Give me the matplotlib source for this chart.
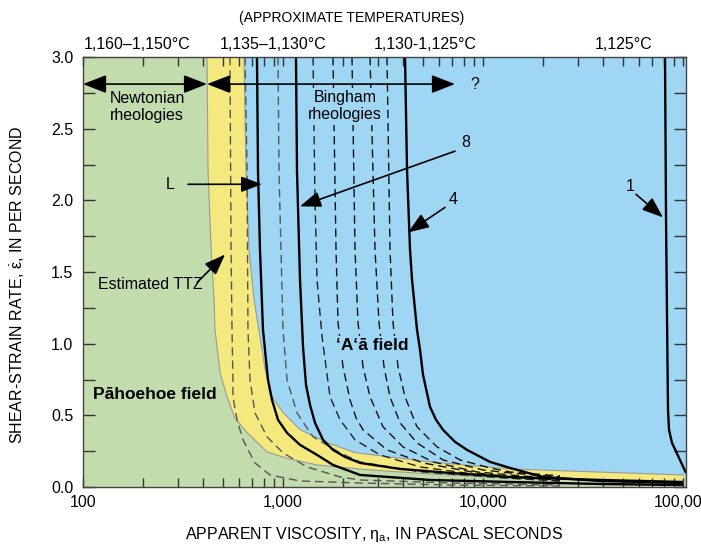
import matplotlib.pyplot as plt
from matplotlib.ticker import FixedLocator, FixedFormatter, LogLocator, NullFormatter, MultipleLocator, FormatStrFormatter
import matplotlib.transforms as mtransforms

plt.rcParams['font.family'] = ['Liberation Sans', 'DejaVu Sans']
plt.rcParams['mathtext.fontset'] = 'custom'
plt.rcParams['mathtext.rm'] = 'Liberation Sans'
plt.rcParams['mathtext.it'] = 'Liberation Sans:italic'

GREEN = '#c2dcae'
YELLOW = '#f3e97f'
BLUE = '#9fd6f4'
EDGE = '#9a9a9a'

# axis
x_ticks = [100, 1000, 10000, 100000]
x_ticklabels = ['100', '1,000', '10,000', '100,000']
XMAX = 103500

# transitional threshold zone (TTZ) edges: viscosity (Pa s), strain rate (1/s)
ttz_left_v = [417, 422, 437, 452, 457, 484, 525, 575, 661, 832, 1047, 1479, 2723, 5433, 13646, 100000]
ttz_left_s = [3.0, 2.2, 1.66, 1.31, 1.10, 0.80, 0.63, 0.48, 0.38, 0.245, 0.20, 0.154, 0.119, 0.091, 0.063, 0.035]
ttz_right_v = [638, 653, 676, 716, 785, 813, 881, 1000, 1216, 1660, 2291, 5433, 13646, 100000]
ttz_right_s = [3.0, 2.22, 1.66, 1.31, 0.96, 0.82, 0.63, 0.52, 0.40, 0.31, 0.24, 0.175, 0.126, 0.084]

# solid curves
curve_L_v = [741, 750, 767, 794, 841, 881, 944, 1047, 1216, 1479, 1778, 2427, 5433, 13646, 38459, 100000]
curve_L_s = [3.0, 2.2, 1.66, 1.10, 0.748, 0.608, 0.469, 0.378, 0.294, 0.224, 0.154, 0.084, 0.049, 0.035, 0.021, 0.014]
curve_8_v = [1161, 1175, 1216, 1259, 1303, 1365, 1445, 1585, 1778, 2042, 2427, 3846, 6839, 13646, 38459, 100000]
curve_8_s = [3.0, 2.2, 1.448, 0.979, 0.713, 0.573, 0.448, 0.329, 0.259, 0.210, 0.168, 0.126, 0.098, 0.070, 0.049, 0.035]
curve_4_v = [4074, 4169, 4315, 4416, 4677, 4842, 5012, 5433, 5821, 6310, 7244, 8318, 10839, 13646, 19953, 38459, 100000]
curve_4_s = [3.0, 2.217, 1.657, 1.448, 1.098, 0.958, 0.783, 0.559, 0.469, 0.399, 0.315, 0.259, 0.175, 0.133, 0.070, 0.042, 0.028]
curve_1_v = [81283, 82224, 83176, 84140, 85114, 88105, 95499, 103514]
curve_1_s = [3.0, 1.888, 1.189, 0.538, 0.399, 0.308, 0.203, 0.098]

# dashed curves
dash_1_v = [543, 550, 556, 562, 562, 589, 631, 724, 861, 1216, 2427, 6839, 24266]
dash_1_s = [3.0, 1.657, 1.098, 0.748, 0.629, 0.469, 0.329, 0.168, 0.084, 0.042, 0.028, 0.014, 0.007]
dash_2_v = [646, 661, 668, 684, 724, 832, 1000, 1318, 1928, 2427, 6839, 24266]
dash_2_s = [3.0, 2.217, 1.098, 0.748, 0.517, 0.350, 0.238, 0.140, 0.070, 0.049, 0.028, 0.014]
dash_3_v = [944, 955, 1000, 1047, 1175, 1413, 1928, 2427, 4842, 12162, 24266]
dash_3_s = [3.0, 2.203, 1.098, 0.748, 0.517, 0.350, 0.238, 0.175, 0.105, 0.063, 0.042]
dash_4_v = [1413, 1445, 1479, 1567, 1718, 1928, 2291, 3055, 4842, 9661, 13646, 24266]
dash_4_s = [3.0, 2.007, 1.448, 1.049, 0.629, 0.469, 0.329, 0.224, 0.140, 0.084, 0.063, 0.042]
dash_5_v = [1778, 1841, 1884, 1995, 2163, 2317, 2512, 3311, 5012, 9333, 13646, 24266]
dash_5_s = [3.0, 1.657, 1.147, 0.839, 0.608, 0.483, 0.399, 0.259, 0.168, 0.098, 0.070, 0.049]
dash_6_v = [2213, 2291, 2371, 2512, 2723, 3162, 3981, 5623, 9333, 13646, 24266]
dash_6_s = [3.0, 1.657, 1.147, 0.839, 0.629, 0.420, 0.280, 0.175, 0.105, 0.084, 0.056]
dash_7_v = [2723, 2884, 3020, 3199, 3428, 3846, 4677, 6310, 10000, 13646, 24266]
dash_7_s = [3.0, 1.657, 1.147, 0.839, 0.629, 0.448, 0.308, 0.189, 0.119, 0.098, 0.070]
dash_8_v = [3311, 3428, 3548, 3758, 4074, 4677, 5888, 7674, 10839, 13646, 24266]
dash_8_s = [3.0, 1.657, 1.147, 0.839, 0.629, 0.420, 0.280, 0.189, 0.133, 0.105, 0.077]

temp_labels = ['1,160\u20131,150\u00b0C', '1,135\u20131,130\u00b0C', '1,130-1,125\u00b0C', '1,125\u00b0C']
temp_label_v = [186, 891, 5129, 50699]

fig = plt.figure(figsize=(7.01, 5.45), dpi=100)
ax = fig.add_axes([83 / 701, 1 - 487 / 545, 603 / 701, 430 / 545])
ax.set_xscale('log')
ax.set_xlim(100, XMAX)
ax.set_ylim(0, 3.0)
ax.set_facecolor(GREEN)

# fields
ax.fill(ttz_right_v + [XMAX, XMAX], ttz_right_s + [ttz_right_s[-1], 3.0],
        color=BLUE, lw=0, zorder=1)
ax.fill(ttz_left_v + ttz_right_v[::-1], ttz_left_s + ttz_right_s[::-1],
        color=YELLOW, lw=0, zorder=1)
ax.plot(ttz_left_v, ttz_left_s, color=EDGE, lw=0.8, zorder=2)
ax.plot(ttz_right_v, ttz_right_s, color=EDGE, lw=0.8, zorder=2)

# dashed curves
dash_style = (0, (6, 3.5))
for v, s, c in [(dash_1_v, dash_1_s, '#555555'), (dash_2_v, dash_2_s, '#555555'),
                (dash_3_v, dash_3_s, '#555555'), (dash_4_v, dash_4_s, '#222222'),
                (dash_5_v, dash_5_s, '#111111'), (dash_6_v, dash_6_s, '#111111'),
                (dash_7_v, dash_7_s, '#111111'), (dash_8_v, dash_8_s, '#111111')]:
    ax.plot(v, s, color=c, lw=1.0, ls=dash_style, zorder=3)

# solid curves
for v, s in [(curve_L_v, curve_L_s), (curve_8_v, curve_8_s),
             (curve_4_v, curve_4_s), (curve_1_v, curve_1_s)]:
    ax.plot(v, s, color='black', lw=1.7, zorder=4, solid_capstyle='butt')

# labels in the plot
ax.text(209, 2.65, 'Newtonian\nrheologies', ha='center', va='center', fontsize=11.5, zorder=6)
ax.text(2042, 2.657, 'Bingham\nrheologies', ha='center', va='center', fontsize=11.5, zorder=6,
        bbox=dict(boxstyle='square,pad=0.15', fc=BLUE, ec='none'))
ax.text(2786, 0.986, '\u2018A\u2018\u0101 field', ha='center', va='center', fontsize=12.5,
        fontweight='bold', zorder=6, bbox=dict(boxstyle='square,pad=0.15', fc=BLUE, ec='none'))
ax.text(229, 0.643, 'P\u0101hoehoe field', ha='center', va='center', fontsize=12.5,
        fontweight='bold', zorder=6)
ax.text(216, 1.413, 'Estimated TTZ', ha='center', va='center', fontsize=11.5, zorder=6)
ax.text(288, 2.112, 'L', ha='right', va='center', fontsize=11.5, zorder=6)
ax.text(8222, 2.406, '8', ha='center', va='center', fontsize=11.5, zorder=6)
ax.text(7079, 2.007, '4', ha='center', va='center', fontsize=11.5, zorder=6)
ax.text(54325, 2.098, '1', ha='center', va='center', fontsize=11.5, zorder=6)
ax.text(9120, 2.811, '?', ha='center', va='center', fontsize=11.5, zorder=6)

# arrows
head = dict(color='black', lw=1.2, shrinkA=0, shrinkB=0, mutation_scale=16)
ax.annotate('', xy=(100, 2.811), xytext=(417, 2.811),
            arrowprops=dict(arrowstyle='<|-|>,head_length=0.9,head_width=0.35', **head), zorder=7)
ax.annotate('', xy=(417, 2.811), xytext=(7244, 2.811),
            arrowprops=dict(arrowstyle='<|-|>,head_length=0.9,head_width=0.35', **head), zorder=7)
for tip, tail in [((785, 2.112), (335, 2.112)),
                  ((1216, 1.958), (7244, 2.343)),
                  ((4217, 1.776), (6457, 1.951)),
                  ((79433, 1.881), (58210, 2.042)),
                  ((513, 1.622), (372, 1.427))]:
    ax.annotate('', xy=tip, xytext=tail,
                arrowprops=dict(arrowstyle='-|>,head_length=0.8,head_width=0.3', **head), zorder=7)

# temperature labels above the axes
trans = mtransforms.blended_transform_factory(ax.transData, ax.transAxes)
for lab, v in zip(temp_labels, temp_label_v):
    ax.text(v, 1.030, lab, transform=trans, ha='center', va='center', fontsize=11.5)
fig.text(352 / 701, 1 - 18 / 545, '(APPROXIMATE TEMPERATURES)', ha='center', va='center', fontsize=10)

# ticks
ax.xaxis.set_major_locator(FixedLocator(x_ticks))
ax.xaxis.set_major_formatter(FixedFormatter(x_ticklabels))
ax.xaxis.set_minor_locator(LogLocator(base=10, subs=range(2, 10)))
ax.xaxis.set_minor_formatter(NullFormatter())
ax.yaxis.set_major_locator(MultipleLocator(0.5))
ax.yaxis.set_minor_locator(MultipleLocator(0.25))
ax.yaxis.set_major_formatter(FormatStrFormatter('%.1f'))
ax.tick_params(which='both', direction='in', top=True, right=True, colors='#333333',
               labelcolor='black', labelsize=11.5, width=1.0)
ax.tick_params(axis='x', which='both', length=6.5, pad=6)
ax.tick_params(axis='y', which='both', length=8.5, pad=7)
for sp in ax.spines.values():
    sp.set_color('#444444')
    sp.set_linewidth(1.0)
    sp.set_zorder(8)

ax.set_xlabel(r'APPARENT VISCOSITY, $\mathrm{\eta_a}$, IN PASCAL SECONDS', fontsize=11.5)
ax.xaxis.set_label_coords(0.483, -0.088)
ax.set_ylabel(r'SHEAR-STRAIN RATE, $\dot{\mathrm{\varepsilon}}$, IN PER SECOND', fontsize=11.5)
ax.yaxis.set_label_coords(-0.093, 0.47)

fig.savefig('out.png', dpi=100)
